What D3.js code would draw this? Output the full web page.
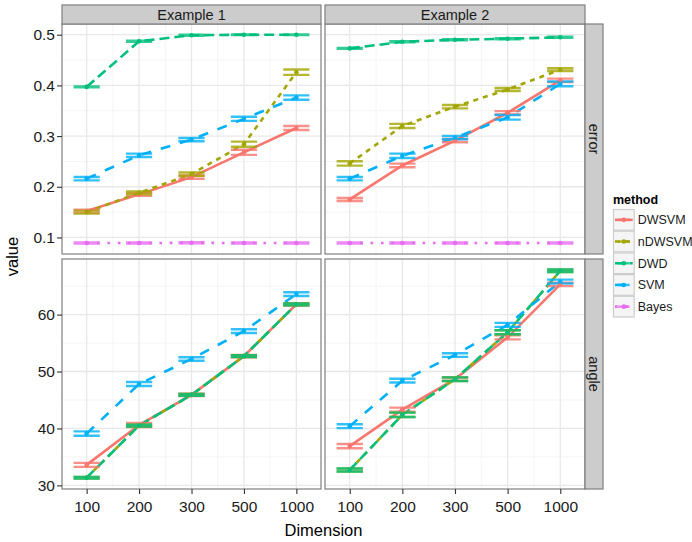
<!DOCTYPE html>
<html>
<head>
<meta charset="utf-8">
<script src="https://cdn.jsdelivr.net/npm/d3@7"></script>
<style>
  body { margin: 0; background: #fff; }
  text { font-family: "Liberation Sans", Arial, Helvetica, sans-serif; }
</style>
</head>
<body>
<div id="chart"></div>
<script>
const dimensions = ['100', '200', '300', '500', '1000'];
const methods = ['DWSVM', 'nDWSVM', 'DWD', 'SVM', 'Bayes'];
const examples = ['Example 1', 'Example 2'];
const measures = ['error', 'angle'];
const errorTicks = [0.1, 0.2, 0.3, 0.4, 0.5];
const angleTicks = [30, 40, 50, 60];

// mean misclassification error
const ex1Error = {
  DWSVM: [0.152, 0.185, 0.219, 0.268, 0.316],
  nDWSVM: [0.150, 0.188, 0.225, 0.284, 0.426],
  DWD: [0.397, 0.487, 0.499, 0.500, 0.500],
  SVM: [0.216, 0.262, 0.293, 0.334, 0.376],
  Bayes: [0.089, 0.089, 0.0895, 0.089, 0.089],
};
const ex2Error = {
  DWSVM: [0.175, 0.242, 0.291, 0.346, 0.410],
  nDWSVM: [0.246, 0.320, 0.358, 0.392, 0.431],
  DWD: [0.473, 0.486, 0.490, 0.492, 0.495],
  SVM: [0.216, 0.261, 0.297, 0.337, 0.403],
  Bayes: [0.089, 0.089, 0.089, 0.089, 0.089],
};
// standard errors of the error
const ex1ErrorSE = {
  DWSVM: [0.003, 0.003, 0.0033, 0.005, 0.004],
  nDWSVM: [0.003, 0.0027, 0.0033, 0.005, 0.0053],
  DWD: [0.001, 0.001, 0.001, 0.0005, 0.0005],
  SVM: [0.0033, 0.0033, 0.0033, 0.004, 0.0043],
  Bayes: [0.001, 0.001, 0.001, 0.001, 0.001],
};
const ex2ErrorSE = {
  DWSVM: [0.003, 0.0036, 0.0033, 0.0033, 0.0033],
  nDWSVM: [0.0043, 0.004, 0.0033, 0.003, 0.0027],
  DWD: [0.001, 0.001, 0.001, 0.001, 0.001],
  SVM: [0.0033, 0.0043, 0.0033, 0.0046, 0.0046],
  Bayes: [0.001, 0.001, 0.001, 0.001, 0.001],
};

// mean angle (no Bayes here)
const ex1Angle = {
  DWSVM: [33.6, 40.6, 45.9, 52.7, 61.8],
  nDWSVM: [31.35, 40.5, 45.9, 52.7, 61.8],
  DWD: [31.35, 40.5, 45.9, 52.7, 61.8],
  SVM: [39.1, 47.8, 52.2, 57.1, 63.6],
};
const ex2Angle = {
  DWSVM: [36.9, 43.3, 48.65, 56.0, 65.3],
  nDWSVM: [32.7, 42.4, 48.65, 56.9, 67.7],
  DWD: [32.7, 42.4, 48.65, 56.9, 67.7],
  SVM: [40.4, 48.4, 52.9, 58.2, 65.8],
};
const ex1AngleSE = {
  DWSVM: [0.35, 0.35, 0.2, 0.2, 0.2],
  nDWSVM: [0.15, 0.15, 0.15, 0.15, 0.15],
  DWD: [0.15, 0.15, 0.15, 0.15, 0.15],
  SVM: [0.38, 0.35, 0.32, 0.32, 0.32],
};
const ex2AngleSE = {
  DWSVM: [0.38, 0.35, 0.3, 0.35, 0.3],
  nDWSVM: [0.26, 0.38, 0.32, 0.35, 0.23],
  DWD: [0.26, 0.38, 0.32, 0.35, 0.23],
  SVM: [0.35, 0.32, 0.32, 0.35, 0.35],
};

const width = 692;
const height = 542;
const cols = [{ x0: 62, x1: 321 }, { x0: 325, x1: 585 }];
const rows = [{ y0: 24, y1: 254 }, { y0: 259, y1: 489 }];
const stripTop = 5;
const stripRight = 18;

const means = { error: [ex1Error, ex2Error], angle: [ex1Angle, ex2Angle] };
const errs = { error: [ex1ErrorSE, ex2ErrorSE], angle: [ex1AngleSE, ex2AngleSE] };
const ticks = { error: errorTicks, angle: angleTicks };

const color = d3.scaleOrdinal().domain(methods)
  .range(['#F8766D', '#A3A500', '#00BF7D', '#00B0F6', '#E76BF3']);
const dash = d3.scaleOrdinal().domain(methods)
  .range(['none', '5,5', '10,5', '10,10', '2.6,7.8']);

const svg = d3.select('#chart').append('svg')
  .attr('width', width).attr('height', height);
svg.append('rect').attr('width', width).attr('height', height).attr('fill', '#fff');

// one y scale per row (free y), range of mean +/- se, expanded 5%
const yScales = measures.map((m, r) => {
  const vals = [];
  means[m].forEach((ex, e) => {
    Object.keys(ex).forEach((k) => {
      ex[k].forEach((v, i) => {
        vals.push(v - errs[m][e][k][i], v + errs[m][e][k][i]);
      });
    });
  });
  const [lo, hi] = d3.extent(vals);
  const pad = (hi - lo) * 0.05;
  return d3.scaleLinear().domain([lo - pad, hi + pad]).range([rows[r].y1, rows[r].y0]);
});

const xScales = cols.map((c) =>
  d3.scalePoint().domain(dimensions).range([c.x0, c.x1]).padding(0.47));

measures.forEach((m, r) => {
  const y = yScales[r];
  const row = rows[r];
  const tk = ticks[m];
  const minor = d3.pairs(tk).map(([a, b]) => (a + b) / 2);
  if (tk[0] - (tk[1] - tk[0]) / 2 > y.domain()[0]) minor.unshift(tk[0] - (tk[1] - tk[0]) / 2);
  const lastMinor = tk[tk.length - 1] + (tk[1] - tk[0]) / 2;
  if (lastMinor < y.domain()[1]) minor.push(lastMinor);

  examples.forEach((ex, c) => {
    const x = xScales[c];
    const col = cols[c];
    const g = svg.append('g');
    const step = x.step();

    // grid
    minor.forEach((v) => {
      g.append('line').attr('x1', col.x0).attr('x2', col.x1)
        .attr('y1', y(v)).attr('y2', y(v))
        .attr('stroke', '#f4f4f4').attr('stroke-width', 1);
    });
    d3.pairs(dimensions).forEach(([a, b]) => {
      const xm = (x(a) + x(b)) / 2;
      g.append('line').attr('x1', xm).attr('x2', xm)
        .attr('y1', row.y0).attr('y2', row.y1)
        .attr('stroke', '#f4f4f4').attr('stroke-width', 1);
    });
    tk.forEach((v) => {
      g.append('line').attr('x1', col.x0).attr('x2', col.x1)
        .attr('y1', y(v)).attr('y2', y(v))
        .attr('stroke', '#e8e8e8').attr('stroke-width', 1.3);
    });
    dimensions.forEach((d) => {
      g.append('line').attr('x1', x(d)).attr('x2', x(d))
        .attr('y1', row.y0).attr('y2', row.y1)
        .attr('stroke', '#e8e8e8').attr('stroke-width', 1.3);
    });

    const mData = means[m][c];
    const eData = errs[m][c];
    const keys = methods.filter((k) => mData[k]);

    const line = d3.line()
      .x((d, i) => x(dimensions[i]))
      .y((d) => y(d));

    // lines
    keys.forEach((k) => {
      g.append('path')
        .datum(mData[k])
        .attr('d', line)
        .attr('fill', 'none')
        .attr('stroke', color(k))
        .attr('stroke-width', 2.6)
        .attr('stroke-dasharray', dash(k));
    });

    // error bars
    keys.forEach((k) => {
      const eb = g.append('g').attr('stroke', color(k))
        .attr('stroke-width', 2.4).attr('stroke-opacity', 0.8);
      mData[k].forEach((v, i) => {
        const cx = x(dimensions[i]);
        const lo = y(v - eData[k][i]);
        const hi = y(v + eData[k][i]);
        eb.append('path')
          .attr('fill', 'none')
          .attr('d', `M${cx - step * 0.25},${hi}H${cx + step * 0.25}M${cx},${hi}V${lo}M${cx - step * 0.25},${lo}H${cx + step * 0.25}`);
      });
    });

    // points
    keys.forEach((k) => {
      g.selectAll(null)
        .data(mData[k])
        .enter()
        .append('circle')
        .attr('cx', (d, i) => x(dimensions[i]))
        .attr('cy', (d) => y(d))
        .attr('r', 2.3)
        .attr('fill', color(k));
    });

    // panel border
    g.append('rect')
      .attr('x', col.x0).attr('y', row.y0)
      .attr('width', col.x1 - col.x0).attr('height', row.y1 - row.y0)
      .attr('fill', 'none').attr('stroke', '#7f7f7f').attr('stroke-width', 1.2);

    // axes
    if (c === 0) {
      const ya = svg.append('g')
        .attr('transform', `translate(${col.x0},0)`)
        .call(d3.axisLeft(y).tickValues(tk).tickSize(5).tickPadding(2)
          .tickFormat(m === 'error' ? d3.format('.1f') : d3.format('d')));
      ya.select('.domain').remove();
      ya.selectAll('line').attr('stroke', '#333').attr('stroke-width', 1.1);
      ya.selectAll('text').attr('fill', '#1a1a1a').style('font-size', '15.5px');
    }
    if (r === 1) {
      const xa = svg.append('g')
        .attr('transform', `translate(0,${row.y1})`)
        .call(d3.axisBottom(x).tickSize(5).tickPadding(7));
      xa.select('.domain').remove();
      xa.selectAll('line').attr('stroke', '#333').attr('stroke-width', 1.1);
      xa.selectAll('text').attr('fill', '#1a1a1a').style('font-size', '15.5px');
    }

    // top strips
    if (r === 0) {
      svg.append('rect')
        .attr('x', col.x0).attr('y', stripTop)
        .attr('width', col.x1 - col.x0).attr('height', row.y0 - stripTop)
        .attr('fill', '#cccccc').attr('stroke', '#7f7f7f').attr('stroke-width', 1.2);
      svg.append('text')
        .attr('x', (col.x0 + col.x1) / 2).attr('y', 19.5)
        .attr('text-anchor', 'middle')
        .style('font-size', '14.5px').attr('fill', '#1a1a1a')
        .text(ex);
    }
  });

  // right strips
  const sx = cols[1].x1;
  svg.append('rect')
    .attr('x', sx).attr('y', row.y0)
    .attr('width', stripRight).attr('height', row.y1 - row.y0)
    .attr('fill', '#cccccc').attr('stroke', '#7f7f7f').attr('stroke-width', 1.2);
  svg.append('text')
    .attr('transform', `translate(${sx + stripRight / 2 - 5},${(row.y0 + row.y1) / 2}) rotate(90)`)
    .attr('text-anchor', 'middle')
    .style('font-size', '14.5px').attr('fill', '#1a1a1a')
    .text(m);
});

// axis titles
svg.append('text')
  .attr('x', (cols[0].x0 + cols[1].x1) / 2).attr('y', 536)
  .attr('text-anchor', 'middle').style('font-size', '16.5px').attr('fill', '#000')
  .text('Dimension');
svg.append('text')
  .attr('transform', `translate(18,${(rows[0].y0 + rows[1].y1) / 2}) rotate(-90)`)
  .attr('text-anchor', 'middle').style('font-size', '16.5px').attr('fill', '#000')
  .text('value');

// legend
const lg = svg.append('g').attr('transform', 'translate(613,209)');
lg.append('text').attr('x', 0).attr('y', -5)
  .style('font-size', '12.5px').style('font-weight', 'bold')
  .text('method');
const keySize = 21.7;
methods.forEach((k, i) => {
  const kg = lg.append('g').attr('transform', `translate(0,${i * keySize})`);
  kg.append('rect').attr('x', 0.5).attr('y', 0.5)
    .attr('width', keySize - 1).attr('height', keySize - 1)
    .attr('fill', '#f5f5f5').attr('stroke', '#cccccc').attr('stroke-width', 1.2);
  kg.append('line')
    .attr('x1', 2).attr('x2', keySize - 2)
    .attr('y1', keySize / 2).attr('y2', keySize / 2)
    .attr('stroke', color(k)).attr('stroke-width', 2.6)
    .attr('stroke-dasharray', dash(k));
  kg.append('line')
    .attr('x1', 5).attr('x2', keySize - 5)
    .attr('y1', keySize / 2).attr('y2', keySize / 2)
    .attr('stroke', color(k)).attr('stroke-width', 2.4).attr('stroke-opacity', 0.8);
  kg.append('circle').attr('cx', keySize / 2).attr('cy', keySize / 2)
    .attr('r', 2.3).attr('fill', color(k));
  kg.append('text')
    .attr('x', keySize + 3).attr('y', keySize / 2 + 4.5)
    .style('font-size', '12.5px').attr('fill', '#1a1a1a')
    .text(k);
});
</script>
</body>
</html>
